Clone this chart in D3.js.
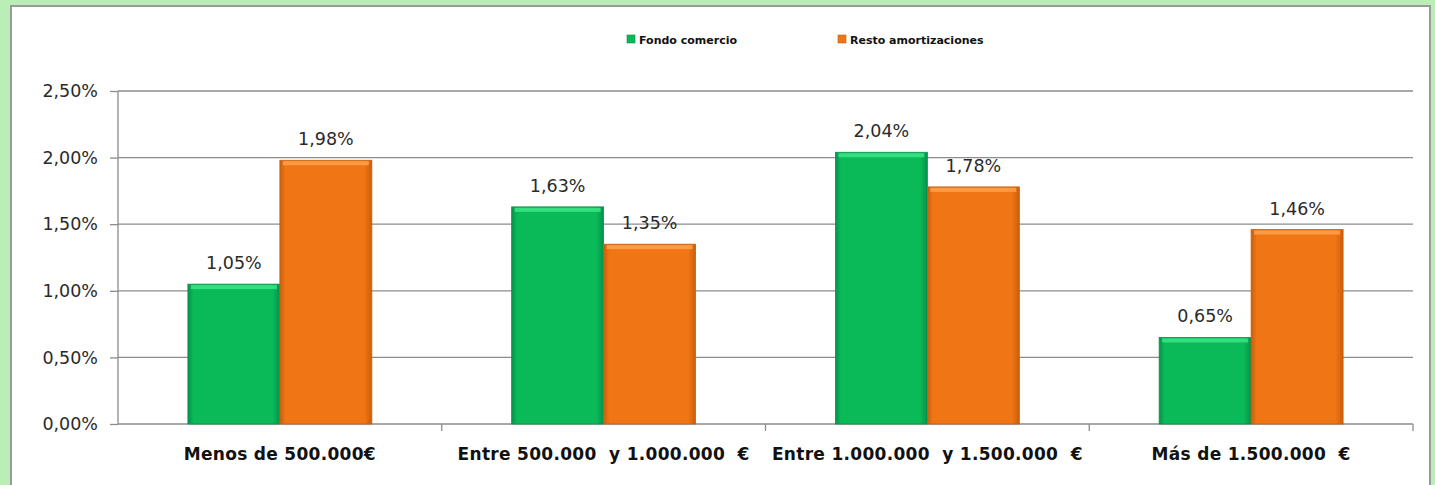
<!DOCTYPE html>
<html>
<head>
<meta charset="utf-8">
<script src="https://cdn.jsdelivr.net/npm/d3@7"></script>
<style>
    body { margin: 0; background: #b9eeb5; }
    svg { display: block; font-family: "DejaVu Sans", sans-serif; }
</style>
</head>
<body>
<svg id="base" width="1435" height="485"></svg>
<script>
const categories = ["Menos de 500.000€", "Entre 500.000  y 1.000.000  €", "Entre 1.000.000  y 1.500.000  €", "Más de 1.500.000  €"];
const seriesNames = ["Fondo comercio", "Resto amortizaciones"];
const fondoComercio = [1.05, 1.63, 2.04, 0.65];
const restoAmortizaciones = [1.98, 1.35, 1.78, 1.46];
const yTicks = [0, 0.5, 1, 1.5, 2, 2.5];

const colors = ["#0aba58", "#f07514"];
const darks = ["#06924a", "#c95e0c"];
const lights = ["#3ee88a", "#ffa552"];

const svg = d3.select("#base");

// white panel
svg.append("rect")
    .attr("x", 11).attr("y", 6)
    .attr("width", 1419).attr("height", 484)
    .attr("fill", "#fff")
    .attr("stroke", "#9a9a9a")
    .attr("stroke-width", 2);

const plotLeft = 118, plotRight = 1413, plotTop = 91, plotBottom = 424;

const x = d3.scaleBand().domain(categories).range([plotLeft, plotRight]).padding(0);
const x1 = d3.scaleBand().domain(seriesNames).range([0, x.bandwidth()]).paddingInner(0).paddingOuter(0.76);
const y = d3.scaleLinear().domain([0, 2.5]).range([plotBottom, plotTop]);

const fmt = (v) => d3.format(".2f")(v).replace(".", ",") + "%";

// gradients
const defs = svg.append("defs");
colors.forEach((c, i) => {
    const g = defs.append("linearGradient").attr("id", "grad" + i)
        .attr("x1", 0).attr("x2", 1).attr("y1", 0).attr("y2", 0);
    g.append("stop").attr("offset", "0%").attr("stop-color", darks[i]);
    g.append("stop").attr("offset", "6%").attr("stop-color", c);
    g.append("stop").attr("offset", "92%").attr("stop-color", c);
    g.append("stop").attr("offset", "100%").attr("stop-color", darks[i]);
});

// gridlines
svg.append("g")
    .selectAll("line")
    .data(yTicks.filter((d) => d > 0))
    .enter()
    .append("line")
    .attr("x1", plotLeft).attr("x2", plotRight)
    .attr("y1", (d) => y(d)).attr("y2", (d) => y(d))
    .attr("stroke", "#8c8c8c").attr("stroke-width", 1.3);

// y axis
const yAxis = svg.append("g")
    .attr("transform", `translate(${plotLeft},0)`)
    .call(d3.axisLeft(y).tickValues(yTicks).tickFormat(fmt).tickSize(8).tickPadding(12));
yAxis.selectAll("line, path").attr("stroke", "#8c8c8c").attr("stroke-width", 1.3);
yAxis.select("path").attr("d", `M0,${plotBottom}V${plotTop}`);
yAxis.selectAll("text").attr("font-size", 17.5).attr("fill", "#2a2a2a")
    .attr("font-family", "DejaVu Sans, sans-serif");

// x axis
const xAxis = svg.append("g").attr("transform", `translate(0,${plotBottom})`);
xAxis.append("line").attr("x1", plotLeft).attr("x2", plotRight).attr("y1", 0).attr("y2", 0)
    .attr("stroke", "#8c8c8c").attr("stroke-width", 1.3);
xAxis.selectAll(".tk")
    .data(categories)
    .enter()
    .append("line")
    .attr("x1", (d) => x(d) + x.bandwidth()).attr("x2", (d) => x(d) + x.bandwidth())
    .attr("y1", 0).attr("y2", 7)
    .attr("stroke", "#8c8c8c").attr("stroke-width", 1.3);
xAxis.selectAll("text")
    .data(categories)
    .enter()
    .append("text")
    .attr("x", (d) => x(d) + x.bandwidth() / 2)
    .attr("y", 36)
    .attr("text-anchor", "middle")
    .attr("font-size", 17)
    .attr("font-weight", "bold")
    .attr("letter-spacing", 0.3)
    .attr("fill", "#111")
    .style("white-space", "pre")
    .text((d) => d);

// bars
const rows = categories.map((c, i) => ({ cat: c, values: [fondoComercio[i], restoAmortizaciones[i]] }));
const group = svg.append("g")
    .selectAll("g")
    .data(rows)
    .enter()
    .append("g")
    .attr("transform", (d) => `translate(${x(d.cat)},0)`);

const bar = group.selectAll("g")
    .data((d) => d.values.map((v, i) => ({ s: seriesNames[i], v: v, i: i })))
    .enter()
    .append("g");

bar.append("rect")
    .attr("x", (d) => x1(d.s))
    .attr("y", (d) => y(d.v))
    .attr("width", x1.bandwidth())
    .attr("height", (d) => plotBottom - y(d.v))
    .attr("fill", (d) => `url(#grad${d.i})`)
    .attr("stroke", (d) => darks[d.i])
    .attr("stroke-width", 0.8);

bar.append("rect")
    .attr("x", (d) => x1(d.s) + 3)
    .attr("y", (d) => y(d.v) + 1)
    .attr("width", x1.bandwidth() - 6)
    .attr("height", 4)
    .attr("fill", (d) => lights[d.i])
    .attr("opacity", 0.8);

bar.append("text")
    .attr("x", (d) => x1(d.s) + x1.bandwidth() / 2)
    .attr("y", (d) => y(d.v) - 15)
    .attr("text-anchor", "middle")
    .attr("font-size", 17.5)
    .attr("fill", "#2a2a2a")
    .text((d) => fmt(d.v));

// legend
const legendX = [627, 838];
const legend = svg.append("g")
    .selectAll("g")
    .data(seriesNames)
    .enter()
    .append("g")
    .attr("transform", (d, i) => `translate(${legendX[i]},35)`);

legend.append("rect")
    .attr("width", 8).attr("height", 8)
    .attr("fill", (d, i) => colors[i])
    .attr("stroke", (d, i) => darks[i]).attr("stroke-width", 0.6);

legend.append("text")
    .attr("x", 12).attr("y", 8.5)
    .attr("font-size", 11)
    .attr("font-weight", "bold")
    .attr("fill", "#111")
    .text((d) => d);
</script>
</body>
</html>
